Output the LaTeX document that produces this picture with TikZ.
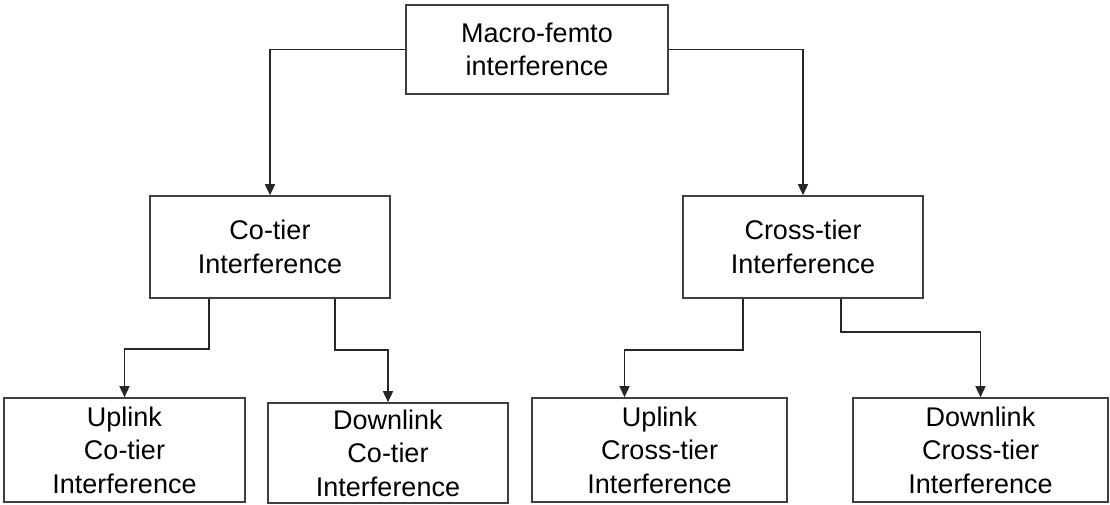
\documentclass[tikz,border=0pt]{standalone}
\usepackage{fontspec}
\setmainfont{Liberation Sans}
\usetikzlibrary{arrows.meta}

\begin{document}
\begin{tikzpicture}[x=1pt,y=-1pt,
  box/.style={draw=black!75,line width=1.6pt,rectangle,align=center,inner sep=0pt,
    font=\fontsize{27}{33.5}\selectfont},
  arr/.style={line width=1.5pt,black!85,-{Triangle[width=10pt,length=11pt]}}]
\useasboundingbox (0,0) rectangle (1110,505);
\node[box,minimum width=262pt,minimum height=89pt] (macro) at (537,49.5) {Macro-femto\\interference};
\node[box,minimum width=240pt,minimum height=102pt] (co) at (270,247) {Co-tier\\Interference};
\node[box,minimum width=240pt,minimum height=102pt] (cross) at (803,247) {Cross-tier\\Interference};
\node[box,minimum width=241pt,minimum height=104pt] (upco) at (124.5,450) {Uplink\\Co-tier\\Interference};
\node[box,minimum width=240pt,minimum height=100pt] (downco) at (388,453) {Downlink\\Co-tier\\Interference};
\node[box,minimum width=255pt,minimum height=104pt] (upcross) at (659.5,450) {Uplink\\Cross-tier\\Interference};
\node[box,minimum width=255pt,minimum height=104pt] (downcross) at (980.5,450) {Downlink\\Cross-tier\\Interference};
% top level
\draw[arr] (macro.west) -| (co.north);
\draw[arr] (macro.east) -| (cross.north);
% co-tier
\draw[arr] ([xshift=-61pt]co.south) -- ++(0,50) -| (upco.north);
\draw[arr] ([xshift=65pt]co.south) -- ++(0,51) -| (downco.north);
% cross-tier
\draw[arr] ([xshift=-60pt]cross.south) -- ++(0,51) -| ([xshift=-35pt]upcross.north);
\draw[arr] ([xshift=38pt]cross.south) -- ++(0,33) -| (downcross.north);
\end{tikzpicture}
\end{document}
